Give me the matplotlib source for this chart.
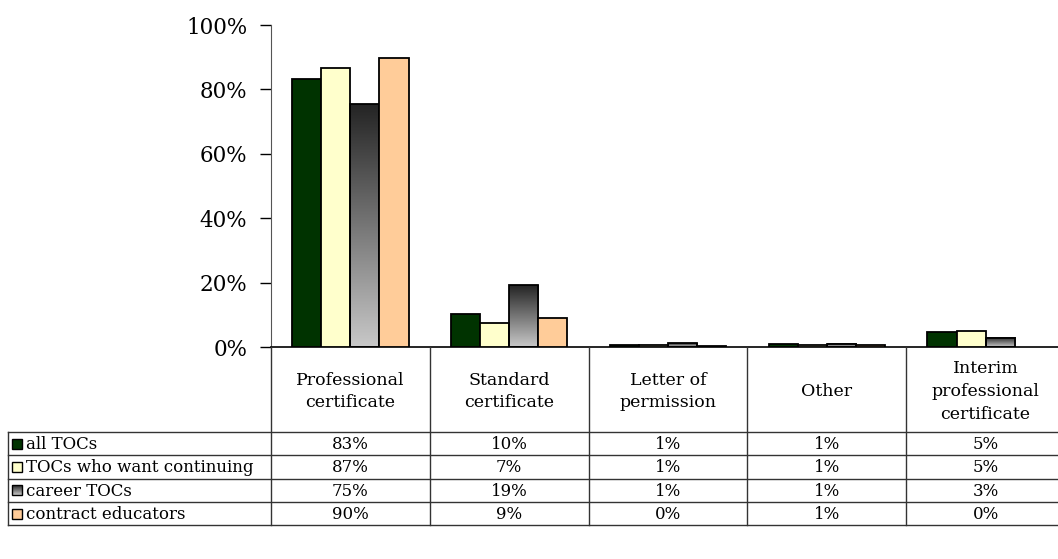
import numpy as np
import matplotlib
matplotlib.use('Agg')
import matplotlib.pyplot as plt
from matplotlib.patches import Rectangle
from matplotlib.colors import LinearSegmentedColormap
import matplotlib.transforms as mtransforms

plt.rcParams['font.family'] = ['DejaVu Serif']

categories = ['Professional\ncertificate', 'Standard\ncertificate', 'Letter of\npermission',
              'Other', 'Interim\nprofessional\ncertificate']
series_names = ['all TOCs', 'TOCs who want continuing', 'career TOCs', 'contract educators']
all_tocs = [83.2, 10.2, 0.6, 0.9, 4.7]
want_continuing = [86.6, 7.3, 0.6, 0.6, 4.9]
career_tocs = [75.4, 19.2, 1.1, 1.0, 2.9]
contract_educators = [89.9, 8.9, 0.4, 0.6, 0.0]
series = [all_tocs, want_continuing, career_tocs, contract_educators]
colors = ['#003300', '#FFFFCC', None, '#FFCC99']   # None -> gradient
yticks = [0, 20, 40, 60, 80, 100]

W, H = 1058, 559
fig = plt.figure(figsize=(W / 100, H / 100), dpi=100)

# pixel layout
ax_left, ax_right, ax_top, ax_base = 271, 1065, 25, 347
table_top, row_h, tab_left = 432, 23.3, 8

ax = fig.add_axes([ax_left / W, 1 - ax_base / H, (ax_right - ax_left) / W, (ax_base - ax_top) / H])
gray_cmap = LinearSegmentedColormap.from_list('g', ['#c8c8c8', '#242424'])
grad = np.linspace(0, 1, 256).reshape(-1, 1)

n = len(categories)
x = np.arange(n)
bw = 0.183
for k, vals in enumerate(series):
    offs = (k - 1.5) * bw
    for i, v in enumerate(vals):
        x0 = x[i] + offs - bw / 2
        if colors[k] is None:
            ax.imshow(grad, extent=(x0, x0 + bw, 0, v), aspect='auto', cmap=gray_cmap,
                      origin='lower', zorder=2)
            ax.add_patch(Rectangle((x0, 0), bw, v, facecolor='none', edgecolor='black',
                                   linewidth=1.3, zorder=3))
        else:
            ax.add_patch(Rectangle((x0, 0), bw, v, facecolor=colors[k], edgecolor='black',
                                   linewidth=1.3 if v > 0 else 0, zorder=3))

ax.set_xlim(-0.5, n - 0.5)
ax.set_ylim(0, 100)
ax.set_yticks(yticks)
ax.set_yticklabels([f'{t}%' for t in yticks], fontsize=15.5)
ax.tick_params(axis='y', direction='out', length=8, width=1, pad=9, color='black')
ax.set_xticks([])
for s in ['top', 'right']:
    ax.spines[s].set_visible(False)
ax.spines['left'].set_color('#555555')
ax.spines['bottom'].set_color('black')
ax.spines['bottom'].set_linewidth(1.2)
ax.patch.set_alpha(0)

# table overlay in pixel coordinates
tab = fig.add_axes([0, 0, 1, 1])
tab.set_xlim(0, W)
tab.set_ylim(H, 0)
tab.axis('off')
tab.patch.set_alpha(0)
blend = mtransforms.blended_transform_factory(ax.transData, tab.transData)

line_kw = dict(color='#333333', linewidth=1)
nrows = len(series)
table_bottom = table_top + nrows * row_h
# horizontal lines
for r in range(nrows + 1):
    yy = table_top + r * row_h
    tab.plot([tab_left, W], [yy, yy], **line_kw)
# vertical lines
tab.plot([tab_left, tab_left], [table_top, table_bottom], **line_kw)
tab.plot([ax_left, ax_left], [ax_base, table_bottom], **line_kw)
for i in range(n):
    tab.plot([i + 0.5, i + 0.5], [ax_base, table_bottom], transform=blend, **line_kw)

# header labels
for i, c in enumerate(categories):
    tab.text(i, (ax_base + table_top) / 2 + 2, c, transform=blend, ha='center', va='center',
             fontsize=12.5, linespacing=1.45)

# rows
for r, (name, vals) in enumerate(zip(series_names, series)):
    yc = table_top + (r + 0.5) * row_h
    sx, sw = 12, 10
    if colors[r] is None:
        tab.imshow(grad[::-1], extent=(sx, sx + sw, yc + sw / 2, yc - sw / 2), aspect='auto',
                   cmap=gray_cmap, zorder=2)
        tab.add_patch(Rectangle((sx, yc - sw / 2), sw, sw, facecolor='none',
                                edgecolor='black', linewidth=1, zorder=3))
    else:
        tab.add_patch(Rectangle((sx, yc - sw / 2), sw, sw, facecolor=colors[r],
                                edgecolor='black', linewidth=1, zorder=3))
    tab.text(sx + sw + 4, yc + 1, name, ha='left', va='center', fontsize=12)
    for i, v in enumerate(vals):
        tab.text(i, yc + 1, f'{round(v):.0f}%', transform=blend, ha='center', va='center',
                 fontsize=12)
tab.set_xlim(0, W)
tab.set_ylim(H, 0)

fig.savefig('out.png', dpi=100)
